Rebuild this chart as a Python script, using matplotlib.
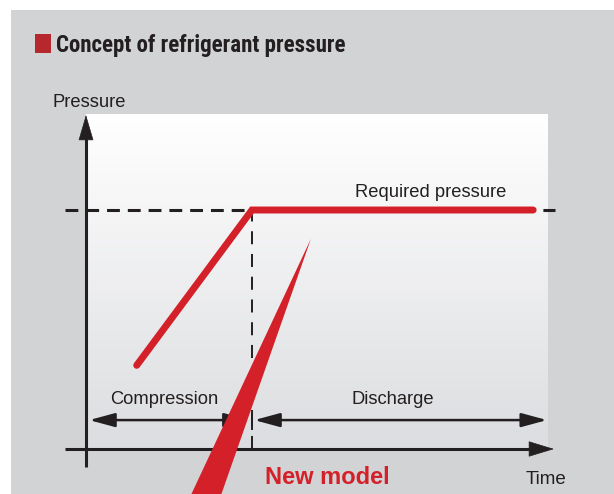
import matplotlib.pyplot as plt
import numpy as np
from matplotlib.patches import Rectangle
from matplotlib.colors import LinearSegmentedColormap

# concept curve: time vs pressure (required pressure = 1)
time = [1.1, 3.6, 9.7]
pressure = [0.35, 1.0, 1.0]
required_pressure = 1.0
switch_time = 3.6        # compression -> discharge
start_time = 0.07
end_time = 10.0
phase_labels = ['Compression', 'Discharge']
phase_centers = [1.69, 6.66]
# "New model" pointer wedge (tip, base left, base right)
pointer_t = [4.88, 2.21, 2.88]
pointer_p = [0.88, -0.22, -0.22]

RED = '#d42029'
DARK = '#231f20'
GRAY = '#d2d3d5'

fig = plt.figure(figsize=(6.14, 4.94), dpi=100)
fig.patch.set_facecolor('white')

# one axes over the whole figure, scaled so the origin sits at the axis crossing
ax = fig.add_axes([0, 0, 1, 1])
ax.set_facecolor('none')
ax.axis('off')
ax.set_xlim(-86 / 46.1, 528 / 46.1)
ax.set_ylim(-45 / 239, 449 / 239)

ax.add_patch(Rectangle((11 / 614, 0), 1, 484 / 494, transform=ax.transAxes,
                       facecolor=GRAY, edgecolor='none', zorder=0))
ax.add_patch(Rectangle((35 / 614, 441 / 494), 16 / 614, 19 / 494, transform=ax.transAxes,
                       facecolor='#b7282e', edgecolor='none', zorder=1))
ax.text(56 / 614, 442 / 494, 'Concept of refrigerant pressure', fontsize=16.5, fontweight='bold',
        family=['Roboto Condensed', 'Liberation Sans'], color=DARK, va='baseline',
        transform=ax.transAxes)

# gradient plot box
grad = np.linspace(0, 1, 256).reshape(-1, 1)
ax.imshow(grad, cmap=LinearSegmentedColormap.from_list('g', ['white', '#dcdde0']),
          extent=[0, 10.02, 0, 1.3975], aspect='auto', origin='upper', zorder=1)

# required pressure dashed line and switch line
ax.plot([-0.456, 10.17], [required_pressure, required_pressure], color=DARK, lw=2.2,
        dashes=(4.2, 2.6), zorder=2)
ax.plot([switch_time, switch_time], [0, required_pressure], color=DARK, lw=1.4,
        dashes=(6.7, 5.0), zorder=2)

# axes with arrows
ax.plot([0, 0], [-0.075, 1.3], color=DARK, lw=2.2, zorder=3, solid_capstyle='butt')
ax.plot([-0.456, 10.0], [0, 0], color=DARK, lw=2.2, zorder=3, solid_capstyle='butt')
ax.annotate('', xy=(0, 1.3975), xytext=(0, 1.2),
            arrowprops=dict(arrowstyle='-|>,head_length=17,head_width=5', mutation_scale=1,
                            lw=0.5, color=DARK, shrinkA=0, shrinkB=0), zorder=3)
ax.annotate('', xy=(10.15, 0), xytext=(9.5, 0),
            arrowprops=dict(arrowstyle='-|>,head_length=17,head_width=5.2', mutation_scale=1,
                            lw=0.5, color=DARK, shrinkA=0, shrinkB=0), zorder=3)

# phase arrows
arrow_p = 0.121
for t0, t1 in [(start_time, switch_time - 0.05), (switch_time + 0.05, end_time)]:
    ax.annotate('', xy=(t1, arrow_p), xytext=(t0, arrow_p),
                arrowprops=dict(arrowstyle='<|-|>,head_length=15.5,head_width=4.2', mutation_scale=1,
                                lw=1.8, color=DARK, shrinkA=0, shrinkB=0), zorder=3)
ax.plot([switch_time, switch_time], [0.085, 0.16], color=DARK, lw=1.4, zorder=3)
for label, c in zip(phase_labels, phase_centers):
    ax.text(c, 0.188, label, ha='center', va='baseline', fontsize=13.2,
            family='Liberation Sans', color=DARK)

# pressure curve
ax.plot(time, pressure, color=RED, lw=5, solid_capstyle='round', solid_joinstyle='miter', zorder=4)

# labels
ax.text(0.065, 1.431, 'Pressure', ha='center', va='baseline', fontsize=13.2,
        family='Liberation Sans', color=DARK)
ax.text(7.48, 1.054, 'Required pressure', ha='center', va='baseline', fontsize=13.2,
        family='Liberation Sans', color=DARK)
ax.text(9.98, -0.146, 'Time', ha='center', va='baseline', fontsize=13.5,
        family='Liberation Sans', color=DARK)
ax.text(5.23, -0.146, 'New model', ha='center', va='baseline', fontsize=17, fontweight='bold',
        family='Liberation Sans', color=RED)

# pointer wedge
ax.fill(pointer_t, pointer_p, color=RED, lw=0, zorder=6)

fig.savefig('out.png', dpi=100)
